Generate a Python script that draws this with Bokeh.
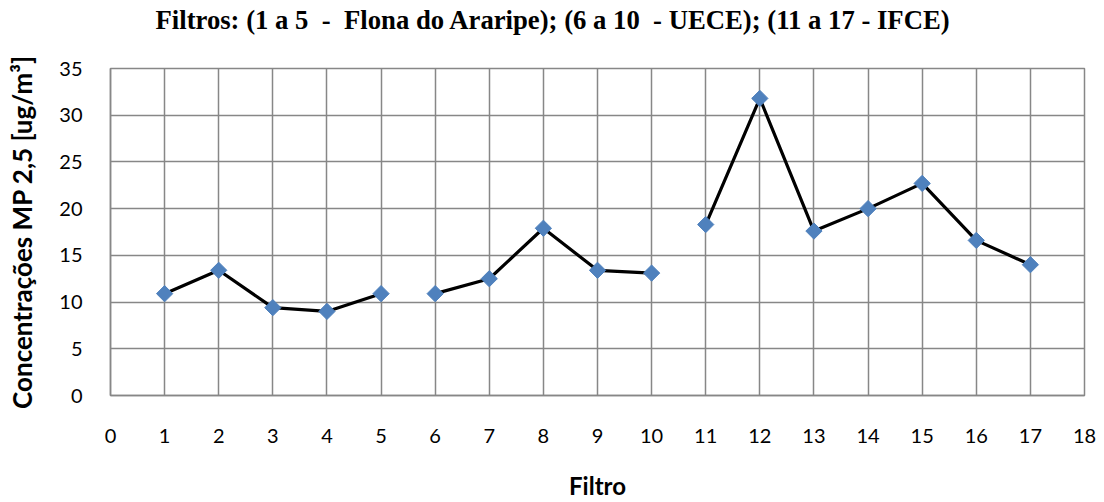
import numpy as np
from bokeh.plotting import figure
from bokeh.models import FixedTicker, ColumnDataSource, Title
from bokeh.embed import file_html
from bokeh.resources import INLINE

filtros = [1, 2, 3, 4, 5, 6, 7, 8, 9, 10, 11, 12, 13, 14, 15, 16, 17]
concentracoes = [10.9, 13.4, 9.4, 9.0, 10.9, 10.9, 12.5, 17.9, 13.4, 13.1,
                 18.3, 31.8, 17.6, 20.0, 22.7, 16.6, 14.0]
grupos = [[1, 2, 3, 4, 5], [6, 7, 8, 9, 10], [11, 12, 13, 14, 15, 16, 17]]
x_ticks = list(range(0, 19))
y_ticks = [0, 5, 10, 15, 20, 25, 30, 35]

nb = "\u00a0"
titulo = ("Filtros: (1 a 5 " + nb + "- " + nb + "Flona do Araripe); (6 a 10 " + nb
          + "- UECE); (11 a 17 - IFCE)")

p = figure(width=1104, height=502, output_backend="svg", toolbar_location=None,
           x_range=(0, 18), y_range=(0, 35), title=titulo,
           min_border_left=110, min_border_right=20, min_border_top=68,
           min_border_bottom=105)

p.title.text_font = "Liberation Serif"
p.title.text_font_style = "bold"
p.title.text_font_size = "26.7px"
p.title.align = "left"
p.title.offset = 45
p.title.vertical_align = "top"
p.title.standoff = 0
p.title.text_color = "#000000"

# empty spacer panel between the title and the plot frame
spacer = Title(text=nb, text_font_size="2px", standoff=28, text_color="white")
p.add_layout(spacer, "above")

grid_color = "#878787"
p.outline_line_color = grid_color
p.outline_line_width = 1.5
p.background_fill_color = "white"
p.border_fill_color = "white"

for ax in (p.xaxis[0], p.yaxis[0]):
    ax.axis_line_color = grid_color
    ax.axis_line_width = 1.5
    ax.major_tick_line_color = None
    ax.minor_tick_line_color = None
    ax.major_label_text_font = "Lato"
    ax.major_label_text_font_size = "20px"
    ax.major_label_text_color = "#000000"
    ax.axis_label_text_font = "Lato"
    ax.axis_label_text_font_style = "bold"
    ax.axis_label_text_color = "#000000"

p.xaxis.axis_label_text_font_size = "24px"
p.yaxis.axis_label_text_font_size = "26px"
p.xaxis.ticker = FixedTicker(ticks=x_ticks)
p.yaxis.ticker = FixedTicker(ticks=y_ticks)
p.xaxis.axis_label = "Filtro"
p.yaxis.axis_label = "Concentrações MP 2,5 [ug/m³]"
p.xaxis.major_label_standoff = 27
p.xaxis.axis_label_standoff = 25
p.yaxis.major_label_standoff = 22
p.yaxis.axis_label_standoff = 18

p.xgrid.ticker = FixedTicker(ticks=x_ticks)
p.ygrid.ticker = FixedTicker(ticks=y_ticks)
for g in (p.xgrid[0], p.ygrid[0]):
    g.grid_line_color = grid_color
    g.grid_line_width = 1.5

for grupo in grupos:
    xs = [f for f in grupo]
    ys = [concentracoes[filtros.index(f)] for f in grupo]
    p.line(xs, ys, line_color="black", line_width=3.2)

src = ColumnDataSource(dict(x=filtros, y=concentracoes))
p.scatter("x", "y", source=src, marker="square", angle=np.pi / 4, size=11.5,
          fill_color="#4F81BD", line_color="#4F81BD")

open("out.html", "w").write(file_html(p, INLINE))
